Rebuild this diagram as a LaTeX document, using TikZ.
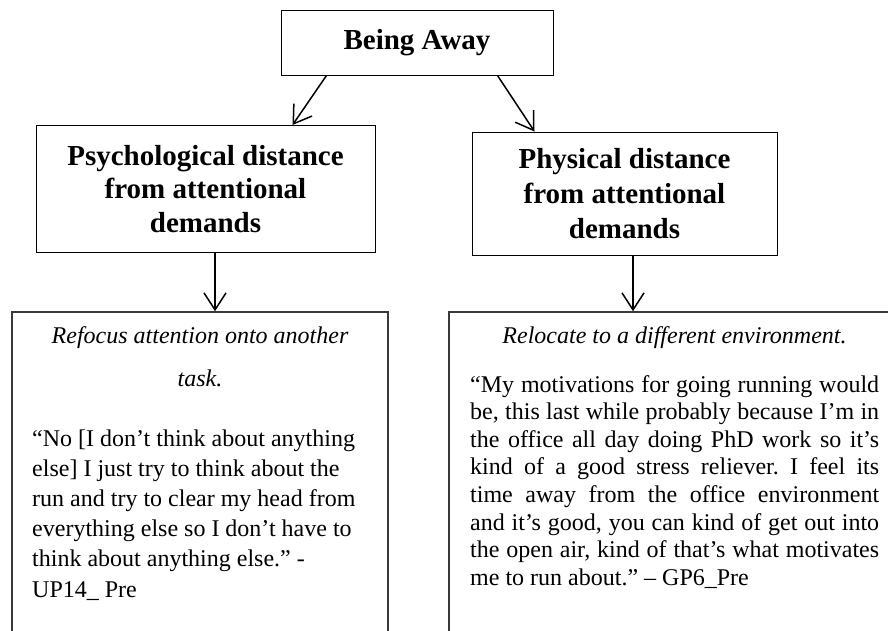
\documentclass[tikz,border=0pt]{standalone}
\usepackage{fontspec}
\setmainfont{Liberation Serif}
\usetikzlibrary{arrows.meta,calc}
\tolerance=10000
\frenchspacing
% interword spaces of fixed width for the ragged texts
\newcommand{\fixedspace}{\spaceskip=6pt\relax}
\begin{document}
\begin{tikzpicture}[x=1pt,y=-1pt,
  headbox/.style={draw=black,line width=1pt,rectangle,inner sep=0pt,align=center},
  quotebox/.style={draw=black!78,line width=1.5pt,rectangle,inner sep=0pt},
  flow/.style={line width=1.5pt,-{Straight Barb[length=17pt,width=22pt,line width=1.5pt]}},
  ttl/.style={inner sep=0pt,align=center,font=\itshape\fontsize{24}{43}\selectfont},
  body/.style={inner sep=0pt,anchor=base west},
]
\useasboundingbox (0,0) rectangle (888,630);
\clip (0,0) rectangle (888,630);

% heading boxes
\node[headbox,minimum width=272pt,minimum height=65pt,font=\bfseries\fontsize{29}{33}\selectfont]
  (away) at (417,42.5) {Being Away};
\node[headbox,minimum width=339pt,minimum height=127pt,font=\bfseries\fontsize{29}{33.5}\selectfont]
  (psy) at (205.5,189) {Psychological distance\\from attentional\\demands};
\node[headbox,minimum width=305pt,minimum height=123pt,font=\bfseries\fontsize{29}{35}\selectfont]
  (phys) at (624.5,193.5) {Physical distance\\from attentional\\demands};

% quotation boxes, running past the lower edge
\node[quotebox,minimum width=376pt,minimum height=348pt] (lbox) at (200,486) {};
\node[quotebox,minimum width=451pt,minimum height=348pt] (rbox) at (674.5,486) {};

% titles of the quotation boxes (first baseline at the given point)
\node[ttl,anchor=base,text width=340pt] (ltitle) at (200,343) {\fixedspace Refocus attention onto another\\task.};
\node[ttl,anchor=base,text width=409pt] (rtitle) at (674.5,343) {\fixedspace Relocate to a different environment.};

% quotations
\node[body,text width=340pt,align=left,font=\fontsize{24}{30.2}\selectfont]
  (lquote) at (32,446)
  {\fixedspace “No [I don’t think about anything\\else] I just try to think about the\\run and try to clear my head from\\everything else so I don’t have to\\think about anything else.” -\\UP14\_ Pre};

\node[body,text width=409pt,align=justify,font=\fontsize{24}{27.6}\selectfont]
  (rquote) at (470,392)
  {“My motivations for going running would\linebreak
   be, this last while probably because I’m in\linebreak
   the office all day doing PhD work so it’s\linebreak
   kind of a good stress reliever. I feel its\linebreak
   time away from the office environment\linebreak
   and it’s good, you can kind of get out into\linebreak
   the open air, kind of that’s what motivates\linebreak
   me to run about.” – GP6\_Pre};

% connector end points
\coordinate (awayL) at ($(away.south west)+(46,0)$);
\coordinate (awayR) at ($(away.south east)+(-56,0)$);
\coordinate (psyIn) at ($(psy.north west)+(257,0)$);
\coordinate (physIn) at ($(phys.north west)+(63,0)$);
\coordinate (psyOut) at ($(psy.south)+(9.5,0)$);
\coordinate (physOut) at ($(phys.south)+(8.5,0)$);

% connectors
\draw[flow] (awayL) -- (psyIn);
\draw[flow] (awayR) -- (physIn);
\draw[flow] (psyOut) -- (psyOut |- lbox.north);
\draw[flow] (physOut) -- (physOut |- rbox.north);
\end{tikzpicture}
\end{document}
